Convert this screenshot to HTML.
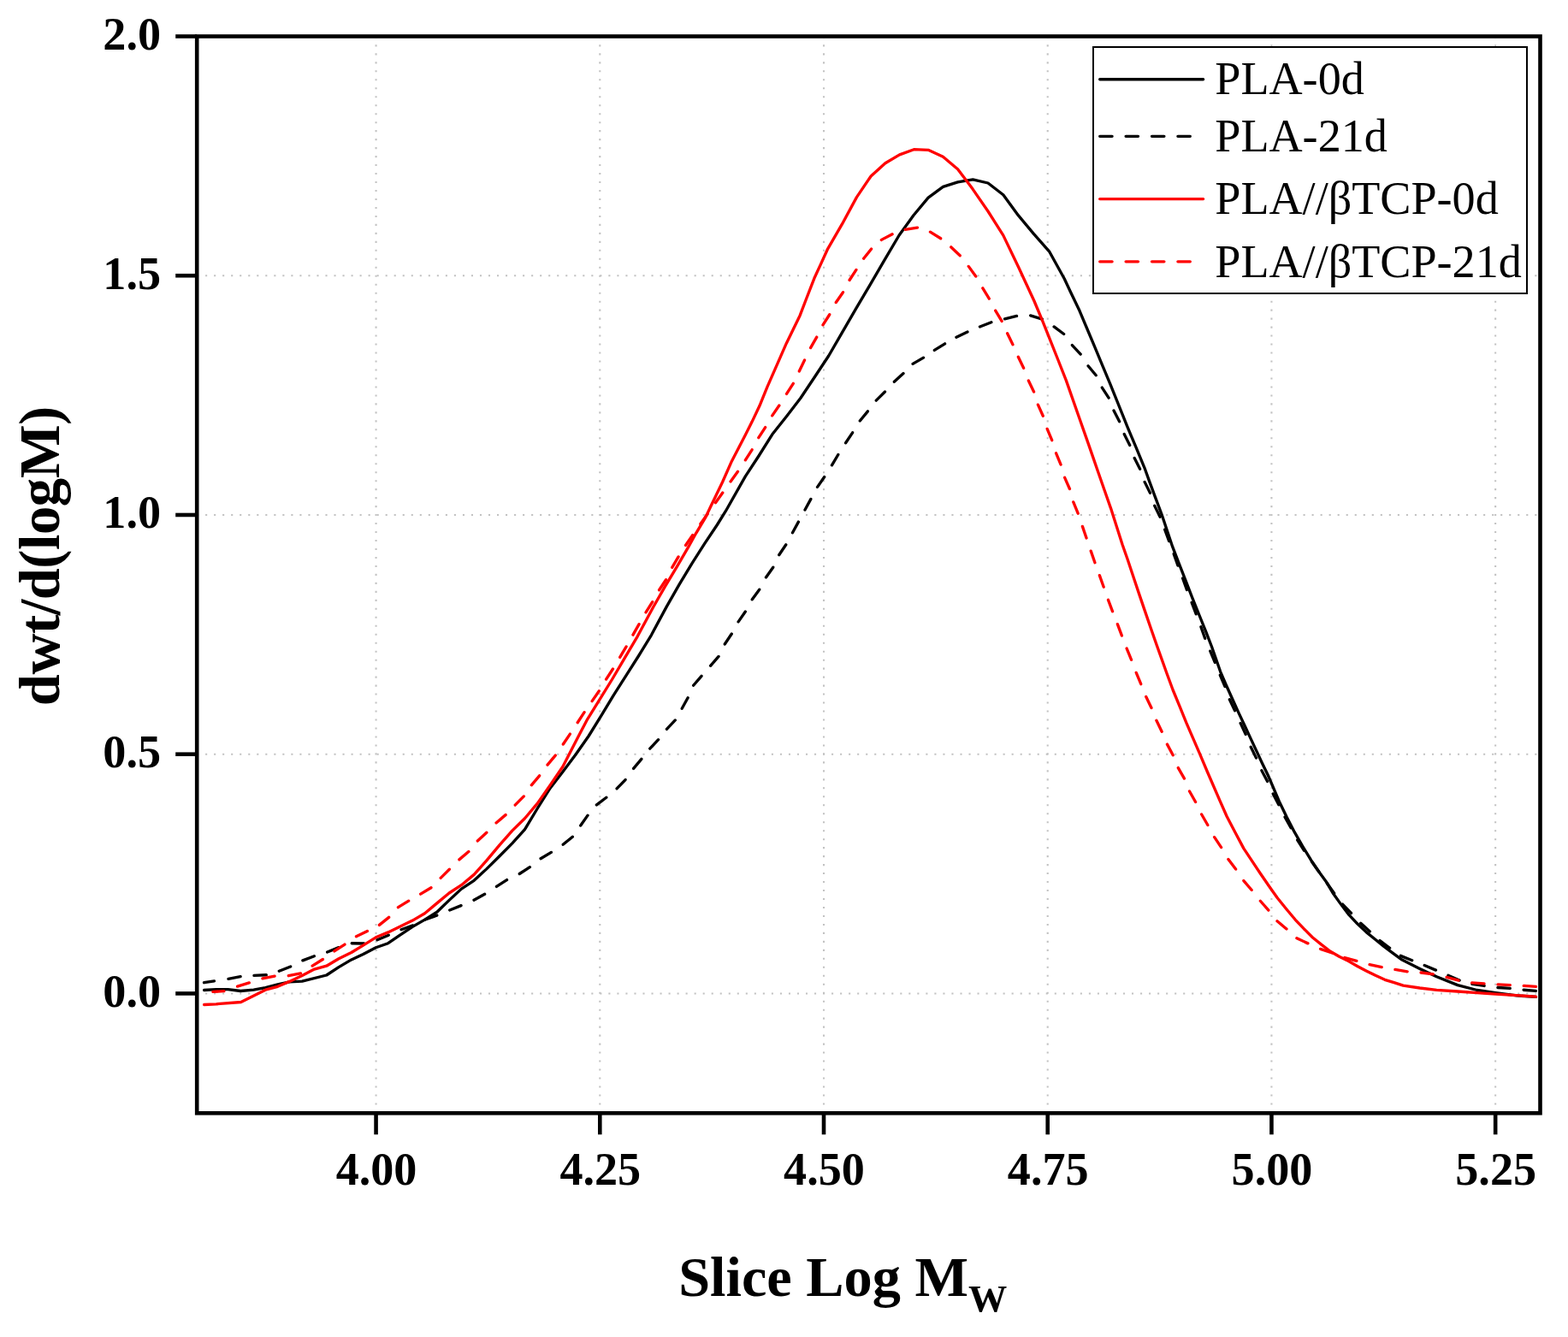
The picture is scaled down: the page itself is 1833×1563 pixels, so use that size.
<!DOCTYPE html>
<html lang="en"><head><meta charset="utf-8"><title>Slice Log Mw</title>
<style>html,body{margin:0;padding:0;background:#fff}body{width:1833px;height:1563px;overflow:hidden}svg{display:block}text{font-family:"Liberation Serif","DejaVu Serif",serif;fill:#000}.b{font-weight:bold}</style></head><body>
<svg width="1833" height="1563" viewBox="0 0 1833 1563">
<rect x="0" y="0" width="1833" height="1563" fill="#fff"/>
<g stroke="#c2c2c2" stroke-width="2.08" fill="none">
<line x1="439.57" y1="1301.30" x2="439.57" y2="42.50" stroke-dasharray="2.08 7.896" stroke-dashoffset="0.14"/>
<line x1="701.29" y1="1301.30" x2="701.29" y2="42.50" stroke-dasharray="2.08 7.896" stroke-dashoffset="0.14"/>
<line x1="963.01" y1="1301.30" x2="963.01" y2="42.50" stroke-dasharray="2.08 7.896" stroke-dashoffset="0.14"/>
<line x1="1224.72" y1="1301.30" x2="1224.72" y2="42.50" stroke-dasharray="2.08 7.896" stroke-dashoffset="0.14"/>
<line x1="1486.44" y1="1301.30" x2="1486.44" y2="42.50" stroke-dasharray="2.08 7.896" stroke-dashoffset="0.14"/>
<line x1="1748.16" y1="1301.30" x2="1748.16" y2="42.50" stroke-dasharray="2.08 7.896" stroke-dashoffset="0.14"/>
<line x1="230.20" y1="1161.43" x2="1800.50" y2="1161.43" stroke-dasharray="2.08 7.947" stroke-dashoffset="0.14"/>
<line x1="230.20" y1="881.70" x2="1800.50" y2="881.70" stroke-dasharray="2.08 7.947" stroke-dashoffset="0.14"/>
<line x1="230.20" y1="601.97" x2="1800.50" y2="601.97" stroke-dasharray="2.08 7.947" stroke-dashoffset="0.14"/>
<line x1="230.20" y1="322.23" x2="1800.50" y2="322.23" stroke-dasharray="2.08 7.947" stroke-dashoffset="0.14"/>
<line x1="230.20" y1="42.50" x2="1800.50" y2="42.50" stroke-dasharray="2.08 7.947" stroke-dashoffset="0.14"/>
</g>
<clipPath id="c"><rect x="230.20" y="42.50" width="1570.30" height="1258.80"/></clipPath>
<g clip-path="url(#c)" fill="none" stroke-width="3.33" stroke-linejoin="round" stroke-linecap="round">
<path d="M238.6 1157.5 L252.7 1156.6 L266.5 1156.6 L281.2 1158.5 L296.5 1157.2 L310.3 1154.6 L324.6 1150.8 L338.4 1147.9 L353.2 1147.2 L381.7 1140.0 L396.0 1130.6 L410.8 1121.9 L424.6 1115.5 L439.4 1107.8 L453.7 1102.7 L468.0 1092.8 L482.3 1083.4 L496.6 1075.1 L510.8 1066.2 L525.1 1052.4 L539.4 1039.1 L554.2 1029.3 L568.5 1016.1 L584.0 1000.7 L598.8 985.9 L613.5 969.7 L628.3 945.0 L643.1 921.4 L657.9 902.2 L672.7 882.5 L688.1 860.5 L702.4 837.4 L717.2 812.8 L732.0 789.6 L746.7 766.5 L761.5 742.3 L779.3 709.1 L794.0 683.4 L808.8 658.8 L823.6 635.7 L838.4 613.5 L848.2 597.7 L871.2 557.1 L887.0 533.0 L902.8 507.8 L919.5 486.7 L935.8 465.5 L952.0 441.3 L968.7 416.0 L984.4 388.9 L1001.2 359.8 L1017.9 331.7 L1034.2 303.6 L1051.1 275.0 L1067.9 251.8 L1085.1 231.1 L1102.4 218.3 L1119.6 212.9 L1137.3 209.9 L1155.0 214.0 L1172.8 227.8 L1190.5 251.9 L1208.2 273.1 L1226.5 293.8 L1244.2 325.8 L1251.2 340.7 L1262.0 363.3 L1270.9 384.5 L1279.8 405.7 L1288.6 426.9 L1297.5 448.1 L1312.3 484.8 L1318.2 499.6 L1328.1 523.2 L1337.9 546.8 L1343.8 563.1 L1349.8 579.4 L1358.1 601.5 L1370.7 639.2 L1378.1 658.4 L1386.0 678.6 L1393.8 698.8 L1401.7 718.5 L1409.6 738.2 L1416.5 756.0 L1426.7 785.3 L1433.2 800.5 L1440.5 816.8 L1447.9 833.1 L1454.8 847.8 L1461.7 862.6 L1468.6 877.4 L1475.5 892.2 L1482.4 906.5 L1495.3 936.7 L1504.1 955.0 L1513.5 973.2 L1522.9 989.5 L1532.7 1005.7 L1542.1 1019.5 L1551.4 1032.3 L1558.7 1044.8 L1567.5 1057.1 L1576.9 1069.4 L1586.7 1079.8 L1597.1 1089.6 L1607.4 1098.0 L1617.8 1106.4 L1628.1 1114.2 L1639.0 1122.1 L1659.7 1132.4 L1679.4 1141.7 L1704.0 1151.6 L1726.7 1157.5 L1748.4 1160.7 L1773.0 1163.9 L1795.5 1165.4" stroke="#000"/>
<path d="M238.5 1148.7 L252.0 1146.7 L265.5 1144.6 L281.7 1141.5 L295.2 1140.5 L311.8 1139.7 L325.4 1135.6 L340.8 1129.5 L352.7 1123.3 L368.7 1117.3 L381.7 1113.4 L397.5 1107.0 L409.9 1102.7 L426.1 1103.0 L439.9 1099.2 L455.2 1092.8 L468.5 1086.9 L483.7 1081.5 L496.1 1075.4 L511.3 1069.9 L525.1 1064.2 L539.9 1058.3 L552.7 1052.9 L568.0 1044.5 L593.3 1028.1 L606.7 1021.9 L620.4 1013.0 L631.8 1003.9 L645.4 995.8 L657.9 987.6 L670.2 977.5 L677.6 966.7 L686.9 953.4 L697.5 940.8 L709.3 931.9 L720.3 922.7 L732.2 910.4 L739.6 899.6 L750.4 886.7 L759.0 875.9 L770.6 863.6 L779.0 852.8 L790.3 840.9 L796.5 829.6 L804.1 815.8 L809.8 802.2 L820.3 790.0 L840.9 766.5 L846.6 754.0 L856.0 740.0 L862.6 727.6 L872.0 714.1 L878.6 701.8 L888.0 688.8 L894.7 676.0 L904.2 662.6 L910.1 649.6 L919.3 636.0 L955.5 569.4 L964.0 557.1 L972.2 544.3 L979.8 531.5 L988.0 518.7 L996.4 506.1 L1004.1 493.4 L1015.2 479.9 L1023.6 468.8 L1036.0 456.5 L1044.8 446.8 L1057.8 435.0 L1066.5 425.7 L1079.8 418.0 L1091.1 410.2 L1105.1 401.5 L1116.7 394.8 L1131.7 387.7 L1144.0 382.5 L1159.6 376.5 L1172.6 373.4 L1189.1 369.3 L1202.7 368.3 L1218.7 373.2 L1231.7 381.6 L1244.8 391.4 L1253.0 403.1 L1264.2 415.1 L1271.4 426.9 L1282.2 440.0 L1287.6 452.0 L1296.5 465.8 L1301.5 478.9 L1308.9 493.3 L1313.8 506.7 L1321.0 521.0 L1325.8 534.7 L1333.0 549.1 L1337.7 562.6 L1344.8 576.9 L1349.3 590.4 L1356.5 605.0 L1372.2 647.6 L1377.1 661.4 L1382.5 675.7 L1387.4 689.5 L1392.9 703.7 L1398.3 718.0 L1403.7 732.3 L1408.8 746.6 L1426.1 788.7 L1432.2 803.0 L1437.1 817.1 L1444.0 831.6 L1449.9 844.9 L1456.6 859.2 L1461.9 872.5 L1468.8 886.7 L1474.8 900.5 L1481.9 914.0 L1487.9 927.4 L1494.8 940.7 L1501.7 954.5 L1509.1 967.8 L1516.5 981.6 L1524.8 994.9 L1550.8 1032.0 L1560.1 1044.8 L1569.5 1057.1 L1579.9 1067.9 L1590.7 1079.3 L1601.5 1089.1 L1612.9 1099.5 L1624.7 1108.3 L1637.0 1117.2 L1663.6 1127.9 L1678.9 1134.3 L1691.7 1139.8 L1706.5 1146.2 L1719.8 1150.1 L1736.1 1152.6 L1750.3 1154.5 L1766.6 1155.5 L1780.4 1157.2 L1795.5 1158.3" stroke="#000" stroke-dasharray="12.1 16.7 14.4 15.9 14.4 15.6 14.4 15.9 14.4 16.0 14.4 16.1 14.4 16.0 14.4 16.1 14.4 16.2 14.4 16.1 14.4 16.3 14.4 16.4 14.4 16.4 14.4 16.1 14.4 16.5 14.4 16.2 14.4 16.1 14.4 16.0 14.4 16.3 14.4 15.7 14.4 15.7 14.4 15.8 14.4 15.9 14.4 16.0 14.4 16.2 14.4 16.2 14.4 16.3 14.4 16.2 14.4 16.1 14.4 16.0 14.4 16.0 14.4 16.0 14.4 16.2 14.4 16.3 14.4 16.3 14.4 16.1 14.4 16.0 14.4 15.8 14.4 15.5 14.4 15.4 14.4 15.7 14.4 16.1 14.4 16.3 14.4 16.3 14.4 16.3 14.4 16.3 14.4 16.0 14.4 15.9 14.4 15.9 14.4 16.0 14.4 16.0 14.4 15.9 14.4 15.9 14.4 15.9 14.4 15.9 14.4 15.9 14.4 16.0 14.4 16.0 14.4 16.0 14.4 16.1 14.4 16.1 14.4 15.9 14.4 15.9 14.4 16.0 14.4 16.1 14.4 16.2 14.4 16.2 14.4 16.2 14.4 16.2 14.4 16.3 14.4 15.8 14.4 15.7 14.4 15.6 14.4 15.7 14.4 15.4 14.4 15.9 14.4 15.9 14.4 16.0"/>
<path d="M238.6 1174.5 L252.7 1173.8 L281.7 1171.5 L310.3 1157.2 L324.6 1153.3 L338.4 1147.4 L353.2 1140.5 L367.4 1133.1 L381.7 1129.2 L396.0 1120.8 L410.8 1113.5 L424.6 1105.1 L439.4 1095.8 L453.7 1089.9 L468.0 1083.0 L482.3 1076.1 L496.6 1067.7 L510.8 1055.9 L525.1 1044.0 L539.4 1034.7 L554.2 1022.4 L568.5 1006.4 L584.0 987.9 L598.8 971.1 L613.5 956.8 L628.3 939.1 L643.1 917.9 L657.9 896.3 L675.3 862.5 L686.7 840.8 L701.4 817.2 L715.7 794.0 L730.5 768.9 L745.3 743.8 L763.5 710.0 L777.3 685.9 L791.1 662.8 L804.9 639.1 L813.7 623.3 L824.6 605.1 L830.5 592.8 L844.6 563.5 L855.5 538.9 L871.2 508.8 L879.1 493.1 L888.0 474.3 L896.8 452.7 L912.5 416.9 L919.4 401.2 L927.3 384.9 L935.2 368.7 L943.1 348.0 L951.9 325.3 L959.8 308.1 L967.7 290.8 L984.6 261.7 L1001.4 230.6 L1018.1 206.0 L1034.9 190.7 L1051.6 180.9 L1068.4 174.7 L1085.1 175.3 L1102.4 183.3 L1119.6 197.8 L1136.8 220.6 L1155.0 247.0 L1172.8 275.1 L1190.5 312.0 L1208.8 351.5 L1218.7 375.2 L1226.6 394.9 L1236.4 419.5 L1246.3 444.6 L1262.1 489.7 L1269.0 509.4 L1276.4 530.6 L1283.7 551.8 L1291.1 573.0 L1298.5 594.1 L1312.1 636.7 L1318.0 653.5 L1324.9 674.2 L1331.8 694.9 L1338.7 715.1 L1345.6 735.3 L1352.5 755.0 L1364.2 787.7 L1371.1 806.5 L1379.0 825.7 L1386.8 844.9 L1394.7 863.1 L1402.6 881.3 L1411.5 902.5 L1426.3 936.7 L1434.2 954.5 L1444.0 973.2 L1453.9 991.9 L1463.7 1006.7 L1473.6 1021.5 L1483.4 1035.8 L1486.7 1040.5 L1493.3 1049.8 L1503.6 1062.5 L1514.3 1075.3 L1524.2 1085.7 L1534.5 1096.0 L1544.9 1104.4 L1555.2 1112.3 L1565.6 1118.2 L1576.4 1123.6 L1586.7 1129.5 L1597.1 1134.9 L1607.9 1140.3 L1618.8 1145.3 L1629.6 1148.7 L1640.4 1152.2 L1659.7 1155.0 L1679.4 1157.3 L1704.0 1159.0 L1726.7 1160.7 L1748.4 1162.1 L1773.0 1163.7 L1795.5 1165.1" stroke="#ff0000"/>
<path d="M248.9 1159.4 L263.6 1158.5 L276.5 1153.5 L292.1 1148.7 L305.1 1144.2 L321.6 1141.0 L334.9 1141.2 L351.7 1137.8 L365.0 1129.2 L379.3 1120.3 L390.1 1112.4 L404.4 1103.1 L415.3 1095.3 L429.6 1088.4 L443.3 1081.5 L456.2 1071.1 L465.5 1060.6 L477.3 1053.4 L489.5 1046.5 L504.2 1037.6 L514.3 1027.3 L526.1 1015.5 L536.0 1005.6 L548.8 994.8 L557.4 983.9 L569.7 972.6 L579.6 962.3 L591.9 951.9 L601.7 941.6 L613.1 930.2 L620.4 918.9 L631.0 906.4 L639.5 894.8 L649.5 882.8 L658.1 870.4 L666.5 857.9 L674.8 845.3 L683.2 832.5 L692.1 819.7 L700.7 807.3 L708.3 794.5 L716.5 782.0 L724.3 768.9 L732.0 756.1 L754.6 716.5 L763.0 703.2 L770.2 690.3 L779.0 677.0 L785.2 664.2 L793.1 650.9 L801.4 637.6 L809.8 625.3 L854.0 563.0 L862.9 550.7 L871.0 538.4 L878.9 526.1 L886.2 512.6 L894.7 499.5 L902.3 486.5 L911.4 473.3 L919.5 460.5 L927.4 448.2 L947.0 407.6 L954.9 393.8 L961.6 380.5 L970.1 367.2 L976.7 354.4 L985.9 341.1 L992.3 328.6 L1001.2 315.0 L1009.6 302.2 L1019.4 290.0 L1030.4 280.4 L1043.5 273.5 L1056.4 268.6 L1072.3 266.1 L1085.6 270.0 L1099.9 278.9 L1112.2 289.2 L1123.0 299.5 L1132.2 311.3 L1141.0 323.5 L1148.2 335.8 L1156.6 349.6 L1163.3 362.4 L1171.4 376.0 L1177.1 388.8 L1184.2 403.3 L1189.9 416.4 L1197.0 431.1 L1201.9 444.1 L1209.1 459.1 L1213.0 472.2 L1219.7 487.2 L1223.6 500.0 L1230.0 515.3 L1234.2 528.9 L1240.4 543.9 L1244.3 557.5 L1251.0 572.8 L1254.2 585.5 L1260.6 601.3 L1275.1 643.8 L1280.0 657.9 L1285.2 672.2 L1290.4 686.8 L1295.3 700.8 L1300.7 715.1 L1306.2 729.2 L1311.6 743.6 L1317.0 757.7 L1322.7 771.7 L1328.0 785.8 L1333.9 800.0 L1339.4 813.8 L1346.3 828.1 L1351.6 841.7 L1358.5 856.0 L1364.0 869.3 L1371.6 883.6 L1377.0 897.1 L1384.9 910.9 L1389.9 923.9 L1398.2 938.7 L1403.9 950.7 L1412.3 965.3 L1418.9 977.6 L1428.3 991.7 L1435.2 1003.7 L1445.3 1017.0 L1453.1 1028.7 L1464.2 1041.7 L1472.5 1052.3 L1483.3 1064.5 L1492.5 1076.3 L1505.0 1086.9 L1515.3 1096.5 L1530.1 1103.4 L1542.7 1109.1 L1557.7 1114.2 L1571.5 1119.4 L1586.6 1123.6 L1600.2 1127.5 L1615.8 1130.7 L1629.8 1133.3 L1645.9 1135.9 L1659.7 1136.8 L1676.5 1139.1 L1690.2 1142.2 L1706.5 1146.4 L1719.8 1148.8 L1736.1 1149.9 L1750.3 1150.8 L1766.6 1151.6 L1780.4 1152.4 L1795.5 1153.4" stroke="#ff0000" stroke-dasharray="13.0 16.7 14.4 16.4 14.4 16.3 14.4 16.3 14.4 16.6 14.4 16.4 14.4 15.7 14.4 15.9 14.4 16.1 14.4 15.9 14.4 16.2 14.4 16.3 14.4 16.0 14.4 16.0 14.4 15.9 14.4 15.8 14.4 15.9 14.4 16.0 14.4 15.9 14.4 16.0 14.4 16.0 14.4 15.9 14.4 15.9 14.4 16.0 14.4 16.1 14.4 15.9 14.4 16.0 14.4 16.0 14.4 16.0 14.4 16.1 14.4 16.0 14.4 15.9 14.4 16.1 14.4 16.0 14.4 16.0 14.4 16.0 14.4 16.1 14.4 16.1 14.4 15.8 14.4 15.8 14.4 16.1 14.4 15.9 14.4 15.8 14.4 16.1 14.4 16.0 14.4 15.8 14.4 15.8 14.4 15.9 14.4 15.8 14.4 15.9 14.4 15.9 14.4 15.9 14.4 15.9 14.4 16.0 14.4 16.0 14.4 16.0 14.4 15.9 14.4 16.0 14.4 15.9 14.4 16.0 14.4 16.0 14.4 16.0 14.4 16.0 14.4 16.1 14.4 16.0 14.4 16.1 14.4 16.1 14.4 16.2 14.4 16.2 14.4 16.4 14.4 16.3 14.4 16.2 14.4 16.1 14.4 16.0 14.4 15.8 14.4 15.8 14.4 16.0 14.4 16.0 14.4 16.1 14.4 15.9 14.4 16.0 14.4 15.9 14.4 16.0"/>
</g>
<g stroke="#000" stroke-width="4.6" fill="none">
<rect x="230.20" y="42.50" width="1570.30" height="1258.80"/>
<line x1="439.57" y1="1301.30" x2="439.57" y2="1326.30"/>
<line x1="701.29" y1="1301.30" x2="701.29" y2="1326.30"/>
<line x1="963.01" y1="1301.30" x2="963.01" y2="1326.30"/>
<line x1="1224.72" y1="1301.30" x2="1224.72" y2="1326.30"/>
<line x1="1486.44" y1="1301.30" x2="1486.44" y2="1326.30"/>
<line x1="1748.16" y1="1301.30" x2="1748.16" y2="1326.30"/>
<line x1="230.20" y1="1161.43" x2="205.20" y2="1161.43"/>
<line x1="230.20" y1="881.70" x2="205.20" y2="881.70"/>
<line x1="230.20" y1="601.97" x2="205.20" y2="601.97"/>
<line x1="230.20" y1="322.23" x2="205.20" y2="322.23"/>
<line x1="230.20" y1="42.50" x2="205.20" y2="42.50"/>
</g>
<g class="b" font-size="54.17">
<text x="440.07" y="1385.00" text-anchor="middle">4.00</text>
<text x="701.79" y="1385.00" text-anchor="middle">4.25</text>
<text x="963.51" y="1385.00" text-anchor="middle">4.50</text>
<text x="1225.22" y="1385.00" text-anchor="middle">4.75</text>
<text x="1486.94" y="1385.00" text-anchor="middle">5.00</text>
<text x="1748.66" y="1385.00" text-anchor="middle">5.25</text>
<text x="188.00" y="1176.93" text-anchor="end">0.0</text>
<text x="188.00" y="897.20" text-anchor="end">0.5</text>
<text x="188.00" y="617.47" text-anchor="end">1.0</text>
<text x="188.00" y="337.73" text-anchor="end">1.5</text>
<text x="188.00" y="58.00" text-anchor="end">2.0</text>
</g>
<text class="b" x="793.20" y="1514.90" font-size="66.3">Slice Log M<tspan dy="18.0" font-size="45.3">W</tspan></text>
<text class="b" font-size="66.67" letter-spacing="-0.5" text-anchor="middle" transform="translate(69.30 650.20) rotate(-90)">dwt/d(logM)</text>
<rect x="1278.00" y="55.00" width="507.00" height="288.00" fill="#fff" stroke="#000" stroke-width="2.0"/>
<line x1="1285.70" y1="92.75" x2="1406.60" y2="92.75" stroke="#000" stroke-width="3.33" stroke-linecap="round"/>
<text x="1420.30" y="109.80" font-size="54.17">PLA-0d</text>
<line x1="1285.70" y1="159.30" x2="1395.70" y2="159.30" stroke="#000" stroke-width="3.33" stroke-linecap="round" stroke-dasharray="14.4 16.0"/>
<text x="1420.30" y="177.10" font-size="54.17">PLA-21d</text>
<line x1="1285.70" y1="232.60" x2="1406.60" y2="232.60" stroke="#ff0000" stroke-width="3.33" stroke-linecap="round"/>
<text x="1420.30" y="249.90" font-size="54.17">PLA//βTCP-0d</text>
<line x1="1285.70" y1="305.80" x2="1395.70" y2="305.80" stroke="#ff0000" stroke-width="3.33" stroke-linecap="round" stroke-dasharray="14.4 16.0"/>
<text x="1420.30" y="323.60" font-size="54.17">PLA//βTCP-21d</text>
</svg></body></html>
